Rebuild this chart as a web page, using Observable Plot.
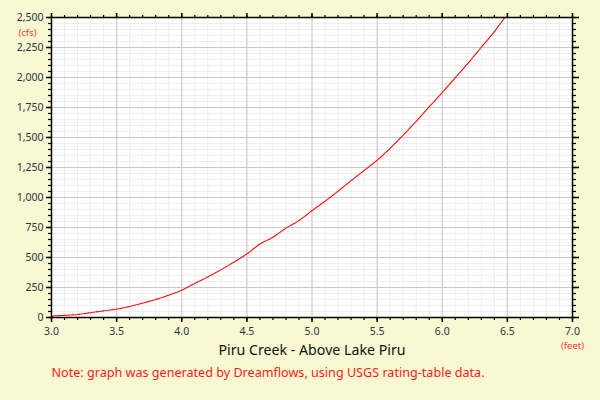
<!DOCTYPE html>
<html>
<head>
<meta charset="utf-8">
<script src="https://cdn.jsdelivr.net/npm/d3@7"></script>
<script src="https://cdn.jsdelivr.net/npm/@observablehq/plot@0.6"></script>
<style>
  html, body { margin: 0; padding: 0; background: #f8f8d2; }
  #chart { width: 600px; height: 400px; }
</style>
</head>
<body>
<div id="chart"></div>
<script>
const stage = [3.0, 3.1, 3.2, 3.3, 3.4, 3.5, 3.6, 3.7, 3.8, 3.9, 4.0, 4.1, 4.2, 4.3, 4.4, 4.5, 4.6, 4.7, 4.8, 4.9, 5.0, 5.1, 5.2, 5.3, 5.4, 5.5, 5.6, 5.7, 5.8, 5.9, 6.0, 6.1, 6.2, 6.3, 6.4, 6.48];
const flow  = [12, 18, 25, 40, 55, 70, 92, 120, 150, 186, 228, 284, 338, 397, 461, 530, 612, 669, 744, 808, 890, 969, 1053, 1140, 1225, 1310, 1410, 1520, 1635, 1755, 1875, 1998, 2122, 2252, 2382, 2500];

const xMajorTicks = [3.0, 3.5, 4.0, 4.5, 5.0, 5.5, 6.0, 6.5, 7.0];
const xMinorTicks = d3.range(30, 71).map(d => d / 10);
const yMajorTicks = [0, 250, 500, 750, 1000, 1250, 1500, 1750, 2000, 2250, 2500];
const yMinorTicks = d3.range(0, 2501, 50);

const title = "Piru Creek - Above Lake Piru";
const note = "Note: graph was generated by Dreamflows, using USGS rating-table data.";
const yUnit = "(cfs)";
const xUnit = "(feet)";

const data = stage.map((s, i) => ({stage: s, flow: flow[i]}));
const font = "Noto Sans, DejaVu Sans, sans-serif";
const labelColor = "#2b3442";

const chart = Plot.plot({
  width: 600,
  height: 400,
  marginLeft: 51,
  marginRight: 28,
  marginTop: 17,
  marginBottom: 83,
  style: {background: "transparent", fontFamily: font, fontSize: "10.5px", color: labelColor},
  x: {domain: [3, 7]},
  y: {domain: [0, 2500]},
  marks: [
    Plot.frame({fill: "white", stroke: "none"}),
    Plot.gridX({ticks: xMinorTicks, stroke: "#eeeeee", strokeOpacity: 1, strokeWidth: 1}),
    Plot.gridY({ticks: yMinorTicks, stroke: "#eeeeee", strokeOpacity: 1, strokeWidth: 1}),
    Plot.gridX({ticks: xMajorTicks, stroke: "#c8c8c8", strokeOpacity: 1, strokeWidth: 1}),
    Plot.gridY({ticks: yMajorTicks, stroke: "#c8c8c8", strokeOpacity: 1, strokeWidth: 1}),
    Plot.line(data, {x: "stage", y: "flow", stroke: "#ff0000", strokeWidth: 1.1, strokeDasharray: "2,1", curve: "monotone-x"}),
    Plot.frame({stroke: "black", strokeWidth: 1.5}),
    // bottom axis
    Plot.axisX({anchor: "bottom", ticks: xMinorTicks, tickSize: 3, tickFormat: () => "", label: null, stroke: "black", strokeWidth: 1.2}),
    Plot.axisX({anchor: "bottom", ticks: xMajorTicks, tickSize: 5, tickPadding: 5, tickFormat: d3.format(".1f"), label: null, stroke: "black", strokeWidth: 1.5, fill: labelColor}),
    // top axis
    Plot.axisX({anchor: "top", ticks: xMinorTicks, tickSize: 3, tickFormat: () => "", label: null, stroke: "black", strokeWidth: 1.2}),
    Plot.axisX({anchor: "top", ticks: xMajorTicks, tickSize: 5, tickFormat: () => "", label: null, stroke: "black", strokeWidth: 1.5}),
    // left axis
    Plot.axisY({anchor: "left", ticks: yMinorTicks, tickSize: 3, tickFormat: () => "", label: null, stroke: "black", strokeWidth: 1.2}),
    Plot.axisY({anchor: "left", ticks: yMajorTicks, tickSize: 5, tickPadding: 3, tickFormat: d3.format(","), label: null, stroke: "black", strokeWidth: 1.5, fill: labelColor}),
    // right axis
    Plot.axisY({anchor: "right", ticks: yMinorTicks, tickSize: 3, tickFormat: () => "", label: null, stroke: "black", strokeWidth: 1.2}),
    Plot.axisY({anchor: "right", ticks: yMajorTicks, tickSize: 6, tickFormat: () => "", label: null, stroke: "black", strokeWidth: 1.5}),
    // texts
    Plot.text([yUnit], {frameAnchor: "top-left", dx: -24, dy: 12, fill: "#f23c3c", fontSize: 9.5, textAnchor: "middle"}),
    Plot.text([xUnit], {frameAnchor: "bottom-right", dy: 31.5, fill: "#f23c3c", fontSize: 9.5, textAnchor: "middle"}),
    Plot.text([title], {frameAnchor: "bottom", dy: 37, fill: "#111111", fontSize: 14.2, textAnchor: "middle"}),
    Plot.text([note], {frameAnchor: "bottom-left", dy: 59, fill: "#ff1a1a", fontSize: 12.6, textAnchor: "start"})
  ]
});
document.getElementById("chart").appendChild(chart);
</script>
</body>
</html>
